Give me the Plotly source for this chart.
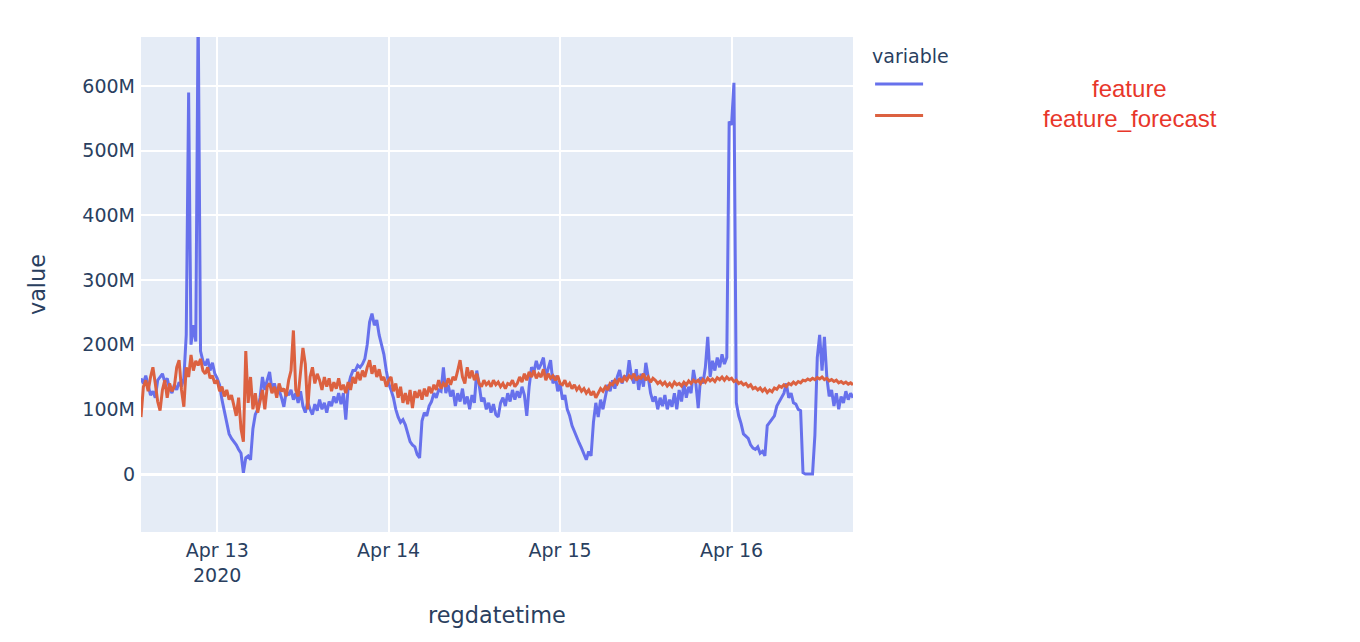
import pandas as pd
import plotly.graph_objects as go

# 20-minute samples starting Apr 12 2020 13:20, values in millions
start_time = "2020-04-12 13:20"
step = "20min"

feature = [
    148, 140, 152, 135, 122, 128, 118, 145, 150, 155, 142, 148,
    132, 125, 138, 130, 142, 135, 148, 215, 590, 200, 230, 205,
    720, 190, 175, 168, 178, 160, 172, 155, 148, 138, 115, 96,
    80, 62, 55, 50, 45, 38, 32, 2, 25, 28, 22, 70,
    92, 100, 118, 150, 130, 145, 158, 130, 140, 125, 130, 118,
    104, 128, 122, 130, 115, 125, 110, 128, 105, 95, 112, 100,
    92, 108, 98, 115, 100, 110, 95, 112, 105, 120, 110, 125,
    108, 125, 84, 135, 150, 160, 160, 168, 165, 170, 178, 200,
    235, 248, 230, 238, 215, 200, 185, 160, 140, 130, 118, 100,
    88, 80, 84, 76, 62, 50, 45, 42, 30, 25, 82, 95,
    90, 105, 112, 125, 118, 130, 128, 165, 125, 138, 120, 130,
    105, 125, 112, 132, 108, 120, 100, 122, 110, 160, 138, 112,
    118, 100, 110, 95, 108, 92, 88, 110, 118, 105, 125, 112,
    130, 115, 128, 118, 135, 122, 90, 135, 165, 158, 175, 162,
    170, 180, 150, 165, 176, 140, 152, 128, 140, 115, 122, 100,
    90, 75, 65, 58, 48, 40, 32, 22, 35, 28, 80, 110,
    88, 115, 100, 120, 138, 128, 145, 132, 150, 161, 140, 152,
    145, 176, 150, 140, 162, 130, 155, 135, 172, 150, 125, 112,
    120, 100, 118, 105, 122, 100, 115, 104, 125, 100, 130, 112,
    140, 118, 135, 125, 161, 140, 102, 150, 140, 165, 212, 150,
    175, 160, 180, 165, 185, 170, 180, 545, 540, 605, 110, 90,
    78, 62, 58, 55, 45, 40, 38, 42, 32, 35, 28, 75,
    80, 85, 90, 105, 112, 120, 125, 140, 118, 125, 110, 108,
    100, 98, 2, 0, 0, 0, 0, 60, 180, 215, 160, 212,
    150, 120, 130, 105, 125, 100, 120, 110, 128, 115, 125, 118,
]

feature_forecast = [
    88, 135, 145, 128, 150, 165, 140, 112, 98, 130, 145, 118,
    140, 128, 135, 165, 176, 130, 104, 165, 150, 184, 160, 175,
    168, 178, 160, 155, 165, 148, 152, 140, 145, 128, 135, 120,
    130, 115, 122, 105, 90, 118, 70, 50, 190, 110, 150, 100,
    125, 95, 115, 130, 100, 135, 140, 125, 135, 118, 140, 128,
    132, 120, 145, 160, 222, 130, 120, 155, 195, 170, 100, 150,
    165, 140, 155, 145, 130, 150, 135, 148, 128, 142, 132, 148,
    130, 138, 125, 142, 130, 150, 140, 158, 145, 160, 150, 165,
    176, 155, 168, 150, 162, 145, 150, 135, 145, 150, 128, 140,
    118, 135, 110, 125, 108, 130, 102, 128, 118, 130, 115, 132,
    120, 135, 125, 138, 130, 145, 132, 140, 135, 148, 138, 150,
    145, 160, 176, 150, 140, 165, 148, 160, 145, 155, 140, 135,
    145, 138, 142, 135, 145, 138, 142, 135, 140, 132, 140, 138,
    145, 135, 140, 150, 142, 155, 145, 158, 150, 160, 148, 155,
    150, 162, 145, 155, 148, 152, 145, 152, 140, 138, 145, 135,
    140, 132, 138, 130, 135, 128, 132, 125, 130, 122, 128, 118,
    125, 132, 128, 135, 130, 140, 138, 145, 140, 148, 142, 150,
    145, 152, 148, 155, 145, 150, 148, 155, 145, 150, 142, 148,
    145, 140, 143, 138, 142, 136, 140, 135, 142, 138, 140, 136,
    142, 138, 144, 140, 145, 142, 145, 140, 146, 142, 148, 144,
    147, 143, 149, 146, 150, 145, 150, 146, 148, 143, 145, 140,
    142, 138, 140, 135, 138, 132, 134, 130, 133, 128, 132, 126,
    130, 127, 133, 131, 136, 134, 138, 135, 140, 138, 142, 139,
    143, 141, 145, 144, 147, 145, 148, 146, 149, 147, 150, 146,
    148, 144, 146, 143, 145, 141, 143, 140, 142, 139, 141, 138,
]

series_names = ["feature", "feature_forecast"]
series_colors = ["#6771ec", "#dc6140"]

times = pd.date_range(start_time, periods=len(feature), freq=step)
df = pd.DataFrame({"regdatetime": times,
                   "feature": [v * 1e6 for v in feature],
                   "feature_forecast": [v * 1e6 for v in feature_forecast]})

font_family = "Verdana, DejaVu Sans, sans-serif"

fig = go.Figure()
for name, color in zip(series_names, series_colors):
    fig.add_trace(go.Scatter(
        x=df["regdatetime"], y=df[name], mode="lines", name="",
        line=dict(color=color, width=3),
        hovertemplate="variable=" + name + "<br>regdatetime=%{x}<br>value=%{y}<extra></extra>",
    ))

# legend labels were drawn in red to the right of the legend
for i, name in enumerate(series_names):
    fig.add_annotation(
        text=name, xref="paper", yref="paper", x=1.389, y=0.895 - i * 0.059,
        showarrow=False, xanchor="center", yanchor="middle",
        font=dict(family="Arial, Liberation Sans, sans-serif", size=24, color="#e8362a"),
    )

fig.update_layout(
    template="plotly",
    width=1344, height=626,
    margin=dict(l=133, r=499, t=29, b=102),
    font=dict(family=font_family, size=19, color="#2a3f5f"),
    legend=dict(
        title=dict(text="variable", font=dict(size=19)),
        x=1.024, y=0.997, xanchor="left", yanchor="top",
        font=dict(size=22), tracegroupgap=0, itemwidth=48,
    ),
    xaxis=dict(title=dict(text="regdatetime", font=dict(size=22.4), standoff=22),
               dtick=86400000, tick0="2020-04-13",
               gridwidth=1.6, ticklabelstandoff=5),
    yaxis=dict(title=dict(text="value", font=dict(size=22.4), standoff=30),
               range=[-89.7e6, 675.8e6], gridwidth=1.6, zerolinewidth=3,
               ticklabelstandoff=5),
)

fig.write_html("out.html")
